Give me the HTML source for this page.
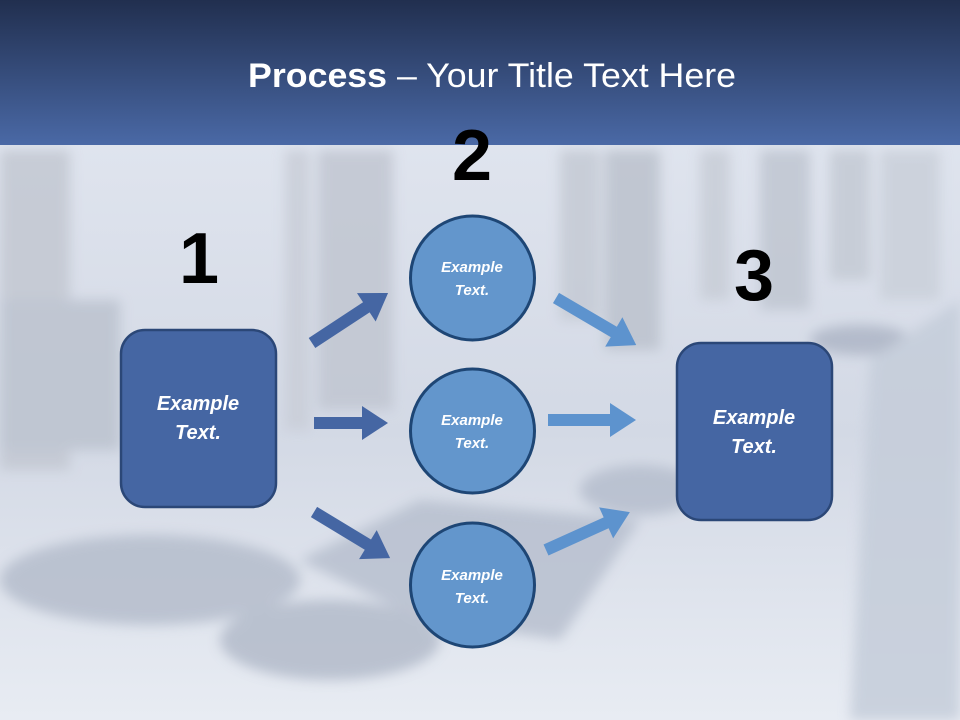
<!DOCTYPE html>
<html><head><meta charset="utf-8"><style>
html,body{margin:0;padding:0;width:960px;height:720px;overflow:hidden;background:#e3e8f0}
svg{display:block}
</style></head><body>
<svg width="960" height="720" viewBox="0 0 960 720" xmlns="http://www.w3.org/2000/svg">
<defs>
<linearGradient id="hd" x1="0" y1="0" x2="0" y2="1">
<stop offset="0" stop-color="#212f4f"/><stop offset="1" stop-color="#4a69a6"/></linearGradient>
<linearGradient id="bg" x1="0" y1="0" x2="0" y2="1">
<stop offset="0" stop-color="#dfe4ee"/><stop offset="0.5" stop-color="#d3d9e5"/><stop offset="1" stop-color="#e8ecf3"/></linearGradient>
<filter id="bl"><feGaussianBlur stdDeviation="6"/></filter>
</defs>
<rect x="0" y="145" width="960" height="575" fill="url(#bg)"/>
<g filter="url(#bl)" opacity="0.85">
<rect x="0" y="150" width="70" height="320" fill="#c3c8d2"/>
<rect x="285" y="150" width="25" height="280" fill="#c9ced8"/>
<rect x="318" y="150" width="75" height="260" fill="#c1c6d1"/>
<rect x="560" y="150" width="40" height="170" fill="#c5cad4"/>
<rect x="605" y="150" width="55" height="200" fill="#bcc2cd"/>
<rect x="700" y="150" width="30" height="150" fill="#c8cdd7"/>
<rect x="760" y="150" width="50" height="160" fill="#c0c6d1"/>
<rect x="830" y="150" width="40" height="130" fill="#c4cad4"/>
<rect x="880" y="150" width="60" height="150" fill="#cad0da"/>
<ellipse cx="150" cy="580" rx="150" ry="45" fill="#b5bdcc"/>
<ellipse cx="330" cy="640" rx="110" ry="40" fill="#b3bbca"/>
<polygon points="300,560 420,500 640,520 560,640 420,620" fill="#b8c0cf"/>
<ellipse cx="860" cy="340" rx="50" ry="15" fill="#aeb6c6"/>
<ellipse cx="640" cy="490" rx="60" ry="25" fill="#b6becd"/>
<polygon points="870,360 960,300 960,720 850,720" fill="#c5cdda"/>
<rect x="0" y="300" width="120" height="150" fill="#bcc3cf"/>
</g>
<rect x="0" y="0" width="960" height="145" fill="url(#hd)"/>
<text x="492" y="87" text-anchor="middle" font-family="Liberation Sans, sans-serif" font-size="34" fill="#fff" textLength="488" lengthAdjust="spacingAndGlyphs"><tspan font-weight="bold">Process</tspan> – Your Title Text Here</text>

<g font-family="Liberation Sans, sans-serif" font-weight="bold" fill="#000" text-anchor="middle">
<text x="472" y="180" font-size="72">2</text>
<text x="199" y="283" font-size="72">1</text>
<text x="754" y="300" font-size="72">3</text>
</g>

<!-- arrows -->
<g fill="#4566a3">
<path d="M0,-6 H65 V-17 L91,0 L65,17 V6 H0 Z" transform="translate(312,343) rotate(-33.3)"/>
<path d="M0,-6 H48 V-17 L74,0 L48,17 V6 H0 Z" transform="translate(314,423)"/>
<path d="M0,-6 H63 V-17 L89,0 L63,17 V6 H0 Z" transform="translate(314,512) rotate(31.2)"/>
</g>
<g fill="#5d93ce">
<path d="M0,-6 H67 V-17 L93,0 L67,17 V6 H0 Z" transform="translate(556,298) rotate(30.4)"/>
<path d="M0,-6 H62 V-17 L88,0 L62,17 V6 H0 Z" transform="translate(548,420)"/>
<path d="M0,-6 H66 V-17 L92,0 L66,17 V6 H0 Z" transform="translate(546,550) rotate(-24.3)"/>
</g>

<rect x="121" y="330" width="155" height="177" rx="24" fill="#4566a3" stroke="#2b4777" stroke-width="2.5"/>
<rect x="677" y="343" width="155" height="177" rx="24" fill="#4566a3" stroke="#2b4777" stroke-width="2.5"/>
<g fill="#6396cc" stroke="#1e4675" stroke-width="3">
<circle cx="472.5" cy="278" r="62"/>
<circle cx="472.5" cy="431" r="62"/>
<circle cx="472.5" cy="585" r="62"/>
</g>
<g font-family="Liberation Sans, sans-serif" font-weight="bold" font-style="italic" fill="#fff" text-anchor="middle">
<text x="198" y="410" font-size="20">Example</text>
<text x="198" y="439" font-size="20">Text.</text>
<text x="754" y="424" font-size="20">Example</text>
<text x="754" y="453" font-size="20">Text.</text>
<text x="472" y="272" font-size="15">Example</text>
<text x="472" y="295" font-size="15">Text.</text>
<text x="472" y="425" font-size="15">Example</text>
<text x="472" y="448" font-size="15">Text.</text>
<text x="472" y="580" font-size="15">Example</text>
<text x="472" y="603" font-size="15">Text.</text>
</g>
</svg>
</body></html>
